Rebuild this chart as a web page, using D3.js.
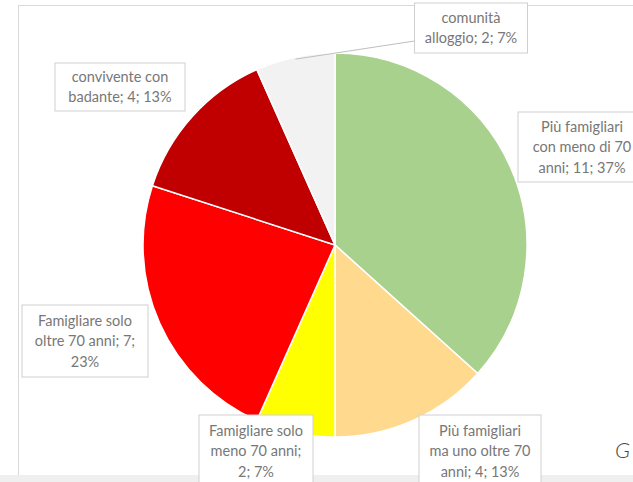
<!DOCTYPE html>
<html>
<head>
<meta charset="utf-8">
<script src="https://cdn.jsdelivr.net/npm/d3@7"></script>
<style>
  html, body { margin: 0; padding: 0; background: #ffffff; }
  svg { display: block; }
</style>
</head>
<body>
<svg id="chart" width="633" height="482"></svg>
<script>
// Household situation categories and counts
const categories = [
  "Più famigliari con meno di 70 anni",
  "Più famigliari ma uno oltre 70 anni",
  "Famigliare solo meno 70 anni",
  "Famigliare solo oltre 70 anni",
  "convivente con badante",
  "comunità alloggio"
];
const values = [11, 4, 2, 7, 4, 2];
const colors = ["#A9D18E", "#FFD98E", "#FFFF00", "#FF0000", "#C00000", "#F2F2F2"];

// Callout layout: box centre x, top y, box width, height, words per line
const callouts = [
  { cx: 582, top: 112, w: 128, h: 70, lines: [2, 4, 3] },
  { cx: 480, top: 415, w: 122, h: 72, lines: [2, 4, 3] },
  { cx: 256, top: 415, w: 114, h: 72, lines: [2, 3, 2] },
  { cx: 85,  top: 305, w: 126, h: 72, lines: [2, 4, 1] },
  { cx: 120, top: 63,  w: 130, h: 48, lines: [2, 3] },
  { cx: 471, top: 3,   w: 113, h: 50, lines: [1, 3] }
];

const svg = d3.select("#chart");
const W = 633, H = 482;
const cx = 335, cy = 245, R = 192;
const fontFamily = "Lato, 'Open Sans', 'Liberation Sans', sans-serif";

// Chart area frame
svg.append("rect").attr("x", 0).attr("y", H - 7).attr("width", W).attr("height", 7).attr("fill", "#efefef");
svg.append("line").attr("x1", 18.5).attr("x2", 18.5).attr("y1", 5).attr("y2", H - 7)
  .attr("stroke", "#d9d9d9").attr("stroke-width", 1);
svg.append("line").attr("x1", 18).attr("x2", W).attr("y1", 5.5).attr("y2", 5.5)
  .attr("stroke", "#d9d9d9").attr("stroke-width", 1);

const total = d3.sum(values);
const data = categories.map((c, i) => ({ name: c, value: values[i], color: colors[i], layout: callouts[i] }));

const pie = d3.pie().value(d => d.value).sort(null).startAngle(0).endAngle(2 * Math.PI);
const arc = d3.arc().innerRadius(0).outerRadius(R);
const arcs = pie(data);

const g = svg.append("g").attr("transform", `translate(${cx},${cy})`);
g.selectAll("path.slice")
  .data(arcs)
  .join("path")
  .attr("class", "slice")
  .attr("d", arc)
  .attr("fill", d => d.data.color)
  .attr("stroke", "#ffffff")
  .attr("stroke-width", 1.5);

// Leader line for the small grey slice, whose callout sits outside the pie
const leaderArc = d3.arc().innerRadius(R - 2).outerRadius(R - 2);
const grey = arcs[5];
const [lx, ly] = leaderArc.centroid(grey);
svg.append("line")
  .attr("x1", cx + lx).attr("y1", cy + ly)
  .attr("x2", grey.data.layout.cx - grey.data.layout.w / 2).attr("y2", grey.data.layout.top + 38)
  .attr("stroke", "#bfbfbf").attr("stroke-width", 1);

// Data callouts
const lineH = 20.5;
arcs.forEach(a => {
  const d = a.data, L = d.layout;
  const pct = Math.round(d.value / total * 100);
  const words = `${d.name}; ${d.value}; ${pct}%`.split(" ");
  const lines = [];
  let k = 0;
  L.lines.forEach(n => { lines.push(words.slice(k, k + n).join(" ")); k += n; });

  const box = svg.append("g");
  box.append("rect")
    .attr("x", L.cx - L.w / 2).attr("y", L.top)
    .attr("width", L.w).attr("height", L.h)
    .attr("fill", "#ffffff").attr("stroke", "#d0d0d0").attr("stroke-width", 1);
  const firstY = L.top + (L.h - lineH * (lines.length - 1)) / 2;
  box.selectAll("text")
    .data(lines)
    .join("text")
    .attr("x", L.cx)
    .attr("y", (t, i) => firstY + i * lineH)
    .attr("dy", "0.35em")
    .attr("text-anchor", "middle")
    .attr("font-family", fontFamily)
    .attr("font-size", 14.5)
    .attr("fill", "#777777")
    .text(t => t);
});

// Start of the page text continuing to the right of the chart
svg.append("text")
  .attr("x", 615).attr("y", 458)
  .attr("font-family", fontFamily)
  .attr("font-style", "italic")
  .attr("font-weight", 300)
  .attr("font-size", 22)
  .attr("fill", "#444")
  .text("G");
</script>
</body>
</html>
